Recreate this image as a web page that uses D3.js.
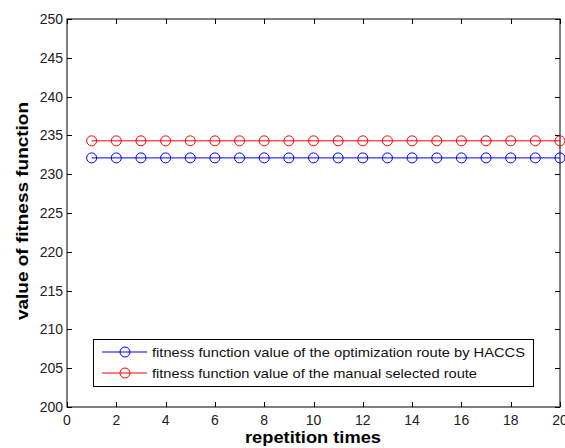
<!DOCTYPE html>
<html><head><meta charset="utf-8">
<script src="https://d3js.org/d3.v7.min.js"></script>
<style>body{margin:0;background:#fff}svg{display:block}</style>
</head><body>
<svg id="c" width="565" height="448"></svg>
<script>
const repetitions = d3.range(1, 21);
const haccsValues = [232.1,232.1,232.1,232.1,232.1,232.1,232.1,232.1,232.1,232.1,232.1,232.1,232.1,232.1,232.1,232.1,232.1,232.1,232.1,232.1];
const manualValues = [234.3,234.3,234.3,234.3,234.3,234.3,234.3,234.3,234.3,234.3,234.3,234.3,234.3,234.3,234.3,234.3,234.3,234.3,234.3,234.3];
const xTicks = [0,2,4,6,8,10,12,14,16,18,20];
const yTicks = [200,205,210,215,220,225,230,235,240,245,250];
const seriesNames = ["fitness function value of the optimization route by HACCS","fitness function value of the manual selected route"];
const seriesColors = ["#0000ff","#ff0000"];

const svg = d3.select("#c");
const L = 67, R = 560, T = 19, B = 407;
const x = d3.scaleLinear().domain([0,20]).range([L,R]);
const y = d3.scaleLinear().domain([200,250]).range([B,T]);
const font = "Arial, 'Liberation Sans', sans-serif";
const tl = 5;

// frame
svg.append("rect").attr("x",L).attr("y",T).attr("width",R-L).attr("height",B-T)
  .attr("fill","none").attr("stroke","#000").attr("stroke-width",1);

// ticks
const g = svg.append("g").attr("stroke","#000").attr("stroke-width",1);
xTicks.forEach(v=>{
  const px = Math.round(x(v))+0.5;
  g.append("line").attr("x1",px).attr("x2",px).attr("y1",B).attr("y2",B-tl);
  g.append("line").attr("x1",px).attr("x2",px).attr("y1",T).attr("y2",T+tl);
});
yTicks.forEach(v=>{
  const py = Math.round(y(v))+0.5;
  g.append("line").attr("x1",L).attr("x2",L+tl).attr("y1",py).attr("y2",py);
  g.append("line").attr("x1",R).attr("x2",R-tl).attr("y1",py).attr("y2",py);
});

// tick labels
svg.append("g").selectAll("text").data(xTicks).join("text")
  .attr("x",d=>x(d)).attr("y",B+18).attr("text-anchor","middle")
  .attr("font-family",font).attr("font-size",14).attr("fill","#222").text(d=>d);
svg.append("g").selectAll("text").data(yTicks).join("text")
  .attr("x",L-4).attr("y",d=>y(d)+5).attr("text-anchor","end")
  .attr("font-family",font).attr("font-size",14).attr("fill","#222").text(d=>d);

// axis labels
svg.append("text").attr("x",313).attr("y",443).attr("text-anchor","middle")
  .attr("font-family",font).attr("font-weight","bold").attr("font-size",16).attr("fill","#000")
  .attr("textLength",136).attr("lengthAdjust","spacingAndGlyphs")
  .text("repetition times");
svg.append("text").attr("transform",`translate(28,211) rotate(-90)`).attr("text-anchor","middle")
  .attr("font-family",font).attr("font-weight","bold").attr("font-size",16).attr("fill","#000")
  .attr("textLength",218).attr("lengthAdjust","spacingAndGlyphs")
  .text("value of fitness function");

// series
const series = [haccsValues, manualValues];
const line = d3.line().x((d,i)=>x(repetitions[i])).y(d=>y(d));
series.forEach((vals,si)=>{
  svg.append("path").datum(vals).attr("d",line).attr("fill","none")
    .attr("stroke",seriesColors[si]).attr("stroke-width",1);
  svg.append("g").selectAll("circle").data(vals).join("circle")
    .attr("cx",(d,i)=>x(repetitions[i])).attr("cy",d=>y(d)).attr("r",5)
    .attr("fill","none").attr("stroke",seriesColors[si]).attr("stroke-width",1);
});

// legend
const legendWidths = [373, 325];
const lg = svg.append("g");
lg.append("rect").attr("x",93.5).attr("y",339.5).attr("width",440).attr("height",47)
  .attr("fill","#fff").attr("stroke","#000").attr("stroke-width",1);
seriesNames.forEach((n,i)=>{
  const ly = 352 + i*21;
  lg.append("line").attr("x1",102).attr("x2",147).attr("y1",ly).attr("y2",ly)
    .attr("stroke",seriesColors[i]).attr("stroke-width",1);
  lg.append("circle").attr("cx",125).attr("cy",ly).attr("r",5).attr("fill","none")
    .attr("stroke",seriesColors[i]).attr("stroke-width",1);
  lg.append("text").attr("x",152).attr("y",ly+5).attr("font-family",font)
    .attr("font-size",13.5).attr("fill","#111")
    .attr("textLength",legendWidths[i]).attr("lengthAdjust","spacingAndGlyphs").text(n);
});
</script>
</body></html>
